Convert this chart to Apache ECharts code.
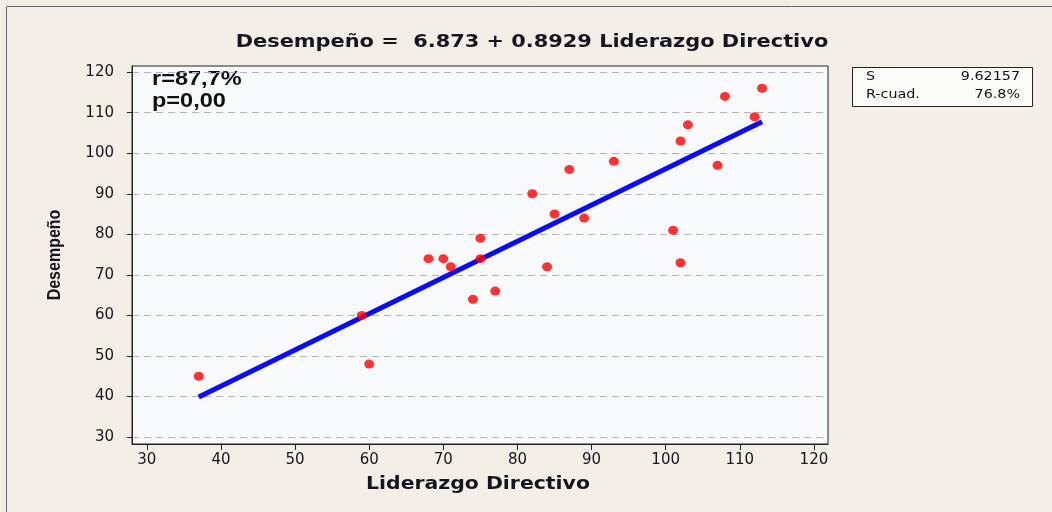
<!DOCTYPE html>
<html>
<head>
<meta charset="utf-8">
<script src="https://cdn.jsdelivr.net/npm/echarts@6/dist/echarts.min.js"></script>
<style>
html,body{margin:0;padding:0;background:#f4efe6;}
#c{width:1052px;height:512px;}
</style>
</head>
<body>
<div id="c"></div>
<script>
// Data
const liderazgo = [37, 59, 60, 68, 70, 71, 74, 75, 75, 77, 82, 84, 85, 87, 89, 93, 101, 102, 102, 103, 107, 108, 112, 113];
const desempeno = [45, 60, 48, 74, 74, 72, 64, 79, 74, 66, 90, 72, 85, 96, 84, 98, 81, 73, 103, 107, 97, 114, 109, 116];
const intercept = 6.873;
const slope = 0.8929;
const xTicks = [30, 40, 50, 60, 70, 80, 90, 100, 110, 120];
const yTicks = [30, 40, 50, 60, 70, 80, 90, 100, 110, 120];
const statS = '9.62157';
const statR2 = '76.8%';
const titleText = 'Desempeño =  6.873 + 0.8929 Liderazgo Directivo';
const xName = 'Liderazgo Directivo';
const yName = 'Desempeño';

const pts = liderazgo.map((x, i) => [x, desempeno[i]]);
const xLo = Math.min(...liderazgo), xHi = Math.max(...liderazgo);
const fitLine = [[xLo, intercept + slope * xLo], [xHi, intercept + slope * xHi]];

const ink = '#15151f';
const chart = echarts.init(document.getElementById('c'), null, {renderer: 'canvas'});
const tickFont = {fontFamily: 'DejaVu Sans', fontSize: 15, color: ink};
chart.setOption({
  backgroundColor: '#f4efe6',
  animation: false,
  grid: {left: 132, right: 224, top: 66, bottom: 68, show: true, backgroundColor: '#f8f9fa', borderColor: '#222', borderWidth: 1},
  xAxis: {
    type: 'value', min: 28, max: 121.9,
    axisLine: {show: true, onZero: false, lineStyle: {color: '#222'}},
    axisTick: {show: true, length: 6, customValues: xTicks, lineStyle: {color: '#222'}},
    axisLabel: {customValues: xTicks, margin: 9, ...tickFont},
    splitLine: {show: false}
  },
  yAxis: {
    type: 'value', min: 28.3, max: 121.5,
    axisLine: {show: true, onZero: false, lineStyle: {color: '#222'}},
    axisTick: {show: true, length: 5, customValues: yTicks, lineStyle: {color: '#222'}},
    axisLabel: {customValues: yTicks, margin: 18, ...tickFont},
    splitLine: {show: true, lineStyle: {color: '#b4b4b4', type: [7, 5], width: 1}}
  },
  series: [
    {
      type: 'line', data: fitLine, showSymbol: false, symbol: 'none',
      lineStyle: {color: '#0a0aff', width: 5}, z: 2
    },
    {
      type: 'scatter', data: pts, symbol: 'circle', symbolSize: [10, 9],
      itemStyle: {color: '#ff0000'}, z: 3
    }
  ],
  graphic: [
    {type: 'rect', x: 6.5, y: 6.5, shape: {width: 1100, height: 600}, style: {fill: 'none', stroke: '#6a6a6a', lineWidth: 1}, silent: true},
    {type: 'text', x: 532, y: 42, scaleX: 1.16, style: {text: titleText, font: 'bold 18px "DejaVu Sans"', fill: ink, align: 'center', verticalAlign: 'middle'}},
    {type: 'text', x: 478, y: 485, scaleX: 1.2, style: {text: xName, font: 'bold 17px "DejaVu Sans"', fill: ink, align: 'center', verticalAlign: 'middle'}},
    {type: 'text', x: 55, y: 255, rotation: Math.PI / 2, scaleY: 1.1, style: {text: yName, font: 'bold 16px "Liberation Sans"', fill: ink, align: 'center', verticalAlign: 'middle'}},
    {type: 'text', x: 152, y: 79, scaleX: 1.12, style: {text: 'r=87,7%', font: 'bold 21px "Liberation Sans"', fill: '#111', verticalAlign: 'middle'}},
    {type: 'text', x: 152, y: 101, scaleX: 1.12, style: {text: 'p=0,00', font: 'bold 21px "Liberation Sans"', fill: '#111', verticalAlign: 'middle'}},
    {type: 'rect', x: 852.5, y: 67.5, shape: {width: 180, height: 39}, style: {fill: '#fbfbfa', stroke: '#222', lineWidth: 1}},
    {type: 'text', x: 866, y: 77, scaleX: 1.1, style: {text: 'S', font: '13px "DejaVu Sans"', fill: '#111', verticalAlign: 'middle'}},
    {type: 'text', x: 1020, y: 77, scaleX: 1.1, style: {text: statS, font: '13px "DejaVu Sans"', fill: '#111', align: 'right', verticalAlign: 'middle'}},
    {type: 'text', x: 866, y: 95, scaleX: 1.1, style: {text: 'R-cuad.', font: '13px "DejaVu Sans"', fill: '#111', verticalAlign: 'middle'}},
    {type: 'text', x: 1020, y: 95, scaleX: 1.1, style: {text: statR2, font: '13px "DejaVu Sans"', fill: '#111', align: 'right', verticalAlign: 'middle'}}
  ]
});
</script>
</body>
</html>
